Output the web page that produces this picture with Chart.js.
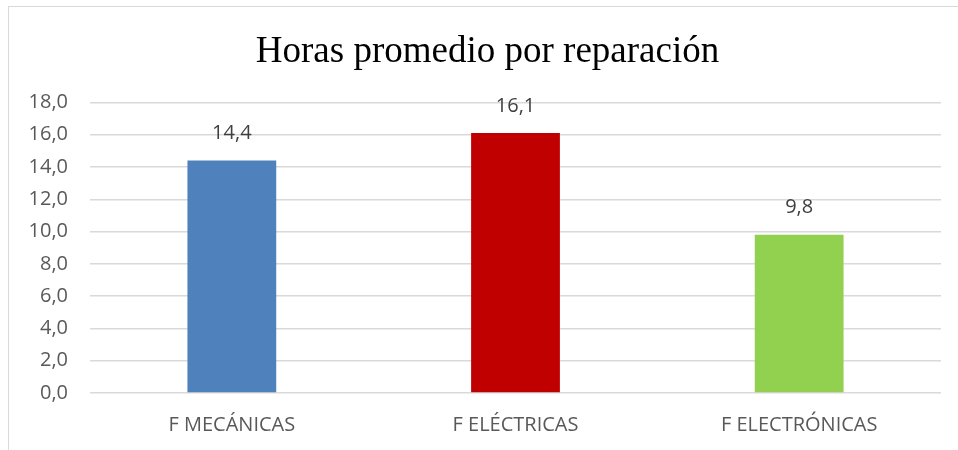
<!DOCTYPE html>
<html>
<head>
<meta charset="utf-8">
<script src="https://cdn.jsdelivr.net/npm/chart.js@4/dist/chart.umd.min.js"></script>
<style>
    html, body { margin: 0; padding: 0; background: #ffffff; }
    #wrap {
        position: absolute;
        left: 8px;
        top: 6px;
        width: 949px;
        height: 443px;
        border-left: 1px solid #d9d9d9;
        border-top: 1px solid #d9d9d9;
    }
</style>
</head>
<body>
<div id="wrap"><canvas id="chart"></canvas></div>
<script>
// Data
const categories = ['F MECÁNICAS', 'F ELÉCTRICAS', 'F ELECTRÓNICAS'];
const hours = [14.4, 16.1, 9.8];
const barColors = ['#4F81BD', '#C00000', '#92D050'];
const chartTitle = 'Horas promedio por reparación';

// comma decimal, one digit
function fmt(v) {
    return Number(v).toFixed(1).replace('.', ',');
}

// value labels above the bars
const valueLabels = {
    id: 'valueLabels',
    afterDatasetsDraw(chart) {
        const ctx = chart.ctx;
        const meta = chart.getDatasetMeta(0);
        ctx.save();
        ctx.font = '20px "Open Sans"';
        ctx.fillStyle = '#404040';
        ctx.textAlign = 'center';
        ctx.textBaseline = 'middle';
        meta.data.forEach((bar, i) => {
            ctx.fillText(fmt(chart.data.datasets[0].data[i]), bar.x, bar.y - 27);
        });
        ctx.restore();
    }
};

// title drawn over the whole box (built-in title only reserves the space)
const boxTitle = {
    id: 'boxTitle',
    afterDraw(chart) {
        const t = chart.titleBlock;
        const ctx = chart.ctx;
        ctx.save();
        ctx.font = '37px "Liberation Serif"';
        ctx.fillStyle = '#000000';
        ctx.textAlign = 'center';
        ctx.textBaseline = 'middle';
        ctx.fillText(chartTitle, chart.width / 2 + 4, t.top + 20 + 25);
        ctx.restore();
    }
};

const ctx = document.getElementById('chart').getContext('2d');
new Chart(ctx, {
    type: 'bar',
    data: {
        labels: categories,
        datasets: [{
            data: hours,
            backgroundColor: barColors,
            borderWidth: 0,
            categoryPercentage: 1,
            barPercentage: 0.313
        }]
    },
    options: {
        responsive: true,
        maintainAspectRatio: false,
        animation: false,
        layout: { padding: { left: 0, right: 17, top: 0, bottom: 0 } },
        plugins: {
            legend: { display: false },
            tooltip: { enabled: false },
            title: {
                display: true,
                text: chartTitle,
                color: 'rgba(0,0,0,0)',
                font: { family: '"Liberation Serif"', size: 37, weight: 'normal', lineHeight: 1.2 },
                padding: { top: 20, bottom: 31 }
            }
        },
        scales: {
            x: {
                grid: { display: false },
                border: { display: false },
                ticks: {
                    color: '#595959',
                    font: { family: '"Open Sans"', size: 20 },
                    padding: 12
                },
                afterFit: s => { s.height = 57; }
            },
            y: {
                min: 0,
                max: 18,
                grid: { color: '#d9d9d9', lineWidth: 1.5, drawTicks: false },
                border: { display: false },
                ticks: {
                    stepSize: 2,
                    color: '#595959',
                    font: { family: '"Open Sans"', size: 20 },
                    padding: 22,
                    callback: v => fmt(v)
                },
                afterFit: s => { s.width = 81; }
            }
        }
    },
    plugins: [valueLabels, boxTitle]
});
</script>
</body>
</html>
